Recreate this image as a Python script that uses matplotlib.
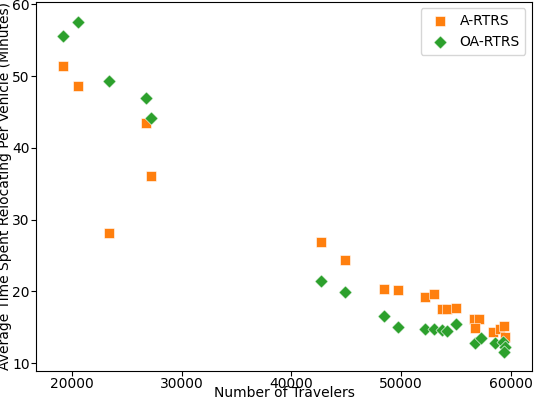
import matplotlib
matplotlib.use("Agg")
import matplotlib.pyplot as plt

# A-RTRS
a_travelers = [19180, 20550, 23370, 26740, 27200, 42690, 44880, 48430, 49700,
               52160, 52980, 53710, 54170, 54990, 56630, 57090, 56720, 58360,
               58990, 59360, 59450]
a_time = [51.4, 48.6, 28.1, 43.5, 36.1, 26.9, 24.4, 20.3, 20.2,
          19.2, 19.6, 17.5, 17.5, 17.7, 16.1, 16.1, 14.9, 14.3,
          14.8, 15.1, 13.6]

# OA-RTRS
oa_travelers = [19180, 20550, 23370, 26740, 27200, 42690, 44880, 48430, 49700,
                52160, 52980, 53710, 54170, 54990, 56720, 57270, 58540, 59270,
                59450, 59360]
oa_time = [55.6, 57.6, 49.3, 47.0, 44.2, 21.4, 19.9, 16.6, 15.0,
           14.7, 14.7, 14.6, 14.5, 15.4, 12.8, 13.5, 12.8, 12.9,
           12.2, 11.5]

fig = plt.figure(figsize=(5.34, 3.98), dpi=100)
ax = fig.add_axes([0.0674, 0.0686, 0.9294, 0.9276])

ax.scatter(a_travelers, a_time, marker='s', s=45, color='#ff7f0e',
           edgecolor='white', linewidth=0.4, label='A-RTRS', zorder=3)
ax.scatter(oa_travelers, oa_time, marker='D', s=45, color='#2ca02c',
           edgecolor='white', linewidth=0.4, label='OA-RTRS', zorder=3)

ax.set_xlim(16720, 61940)
ax.set_ylim(8.93, 60.4)
ax.set_xticks([20000, 30000, 40000, 50000, 60000])
ax.set_yticks([10, 20, 30, 40, 50, 60])
ax.tick_params(labelsize=10, pad=1)
ax.set_xlabel('Number of Travelers', fontsize=10, labelpad=-3.5)
ax.set_ylabel('Average Time Spent Relocating Per Vehicle (Minutes)', fontsize=10, labelpad=0)
ax.legend(loc='upper right', fontsize=10, handletextpad=0.4)

fig.savefig('out.png', dpi=100)
